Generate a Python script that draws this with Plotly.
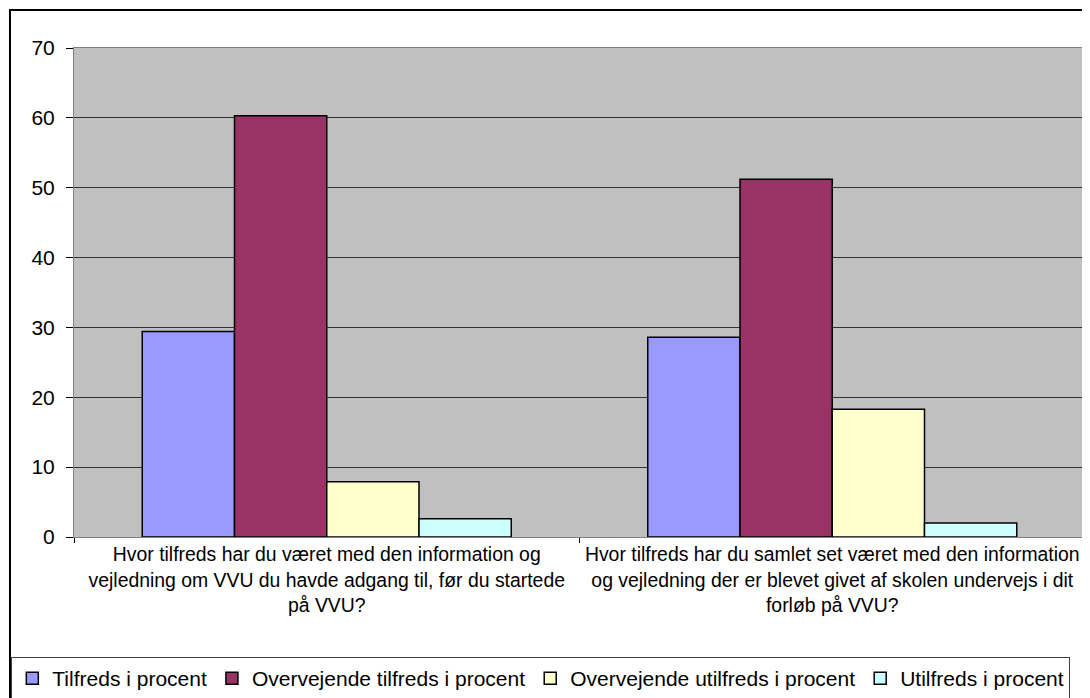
import plotly.graph_objects as go

# survey questions (x categories)
questions = [
    "Hvor tilfreds har du været med den information og<br>vejledning om VVU du havde adgang til, før du startede<br>på VVU?",
    "Hvor tilfreds har du samlet set været med den information<br>og vejledning der er blevet givet af skolen undervejs i dit<br>forløb på VVU?",
]

# answer categories (series)
series_names = [
    "Tilfreds i procent",
    "Overvejende tilfreds i procent",
    "Overvejende utilfreds i procent",
    "Utilfreds i procent",
]
series_colors = ["#9999FF", "#993366", "#FFFFCC", "#CCFFFF"]

# percent values per series, one per question
tilfreds = [29.4, 28.6]
overvejende_tilfreds = [60.3, 51.2]
overvejende_utilfreds = [7.9, 18.3]
utilfreds = [2.6, 2.0]

series_values = [tilfreds, overvejende_tilfreds, overvejende_utilfreds, utilfreds]

FONT = "Liberation Sans, Arial, sans-serif"

fig = go.Figure()
for name, vals, col in zip(series_names, series_values, series_colors):
    fig.add_trace(go.Bar(
        x=questions,
        y=vals,
        name=name,
        marker=dict(color=col, line=dict(color="black", width=1.5)),
    ))

# outer chart frame (runs off the right/bottom edge like the original)
fig.add_shape(type="rect", xref="paper", yref="paper",
              x0=-0.0633, x1=1.2, y0=-0.6, y1=1.0777,
              line=dict(color="black", width=2), layer="below")

# the page has an 8px body margin, so the figure is 16px smaller than the window
W, H = 1082, 690

fig.update_layout(
    width=W,
    height=H,
    margin=dict(l=66, r=5, t=40, b=161, autoexpand=False),
    paper_bgcolor="white",
    plot_bgcolor="#C0C0C0",
    barmode="group",
    bargap=0.27,
    bargroupgap=0,
    font=dict(family=FONT, color="black"),
    showlegend=True,
    legend=dict(
        orientation="h",
        x=-0.062, y=-0.2454,
        xanchor="left", yanchor="top",
        font=dict(size=21, family=FONT),
        bordercolor="#404040",
        borderwidth=1,
        bgcolor="white",
        itemwidth=30,
        traceorder="normal",
    ),
)

fig.update_yaxes(
    range=[0, 70],
    dtick=10,
    showgrid=True,
    gridcolor="#333333",
    gridwidth=1,
    ticks="outside",
    ticklen=7,
    tickcolor="black",
    tickfont=dict(size=21),
    ticklabelstandoff=7,
    showline=True,
    linecolor="#808080",
    mirror=True,
    zeroline=False,
)
fig.update_xaxes(
    showgrid=False,
    ticks="outside",
    tickson="boundaries",
    ticklen=5,
    tickcolor="black",
    tickfont=dict(size=19.4),
    showline=True,
    linecolor="#808080",
    mirror=True,
    tickangle=0,
)

fig.write_html("out.html")
